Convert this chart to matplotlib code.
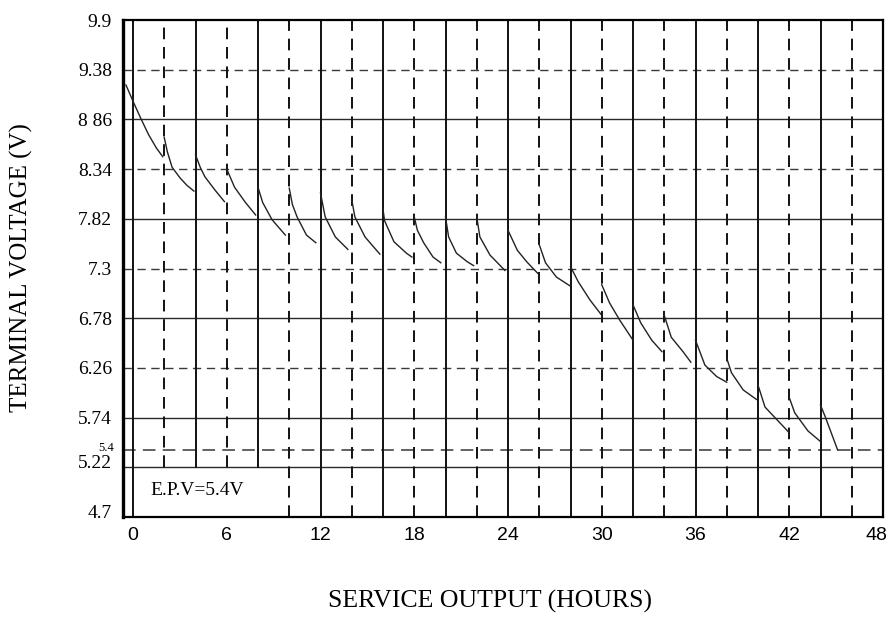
import matplotlib
matplotlib.use("Agg")
import matplotlib.pyplot as plt
import matplotlib.transforms as mtransforms

# ---- data ----
x_ticks = [0, 6, 12, 18, 24, 30, 36, 42, 48]
y_ticks = [4.7, 5.22, 5.74, 6.26, 6.78, 7.3, 7.82, 8.34, 8.86, 9.38, 9.9]
y_tick_labels = ["4.7", "5.22", "5.74", "6.26", "6.78", "7.3", "7.82", "8.34", "8 86", "9.38", "9.9"]
epv = 5.4
epv_label = "E.P.V=5.4V"

seg_hours = [
    [-0.45, 0, 0.5, 1.0, 1.5, 1.9],
    [2, 2.2, 2.5, 3.0, 3.45, 3.9],
    [4, 4.3, 4.6, 5.25, 5.85],
    [6, 6.5, 7.2, 7.85],
    [8, 8.3, 8.9, 9.75],
    [10, 10.2, 10.5, 11.1, 11.7],
    [12, 12.3, 12.95, 13.75],
    [14, 14.2, 14.85, 15.8],
    [16, 16.1, 16.7, 17.5, 17.85],
    [18, 18.2, 18.6, 19.2, 19.7],
    [20, 20.2, 20.7, 21.4, 21.8],
    [22, 22.2, 22.85, 23.8],
    [24, 24.6, 25.2, 25.9],
    [26, 26.4, 27.1, 27.95],
    [28, 28.5, 29.25, 30],
    [30, 30.5, 31.15, 32],
    [32, 32.5, 33.2, 33.85],
    [34, 34.45, 35.2, 35.7],
    [36, 36.6, 37.35, 38],
    [38, 38.3, 39.05, 39.9],
    [40, 40.45, 41.2, 41.95],
    [42, 42.35, 43.2, 44],
    [44, 44.3, 45.1],
]
seg_volts = [
    [9.22, 9.05, 8.87, 8.70, 8.56, 8.47],
    [8.67, 8.52, 8.36, 8.25, 8.17, 8.11],
    [8.49, 8.36, 8.26, 8.12, 8.00],
    [8.34, 8.15, 7.99, 7.86],
    [8.15, 7.99, 7.81, 7.65],
    [8.14, 7.97, 7.84, 7.65, 7.57],
    [8.09, 7.84, 7.63, 7.50],
    [8.02, 7.84, 7.63, 7.45],
    [7.92, 7.80, 7.58, 7.46, 7.42],
    [7.84, 7.70, 7.57, 7.42, 7.36],
    [7.84, 7.63, 7.46, 7.37, 7.33],
    [7.84, 7.63, 7.44, 7.28],
    [7.70, 7.49, 7.37, 7.25],
    [7.55, 7.36, 7.21, 7.12],
    [7.32, 7.16, 6.97, 6.81],
    [7.13, 6.94, 6.76, 6.55],
    [6.92, 6.73, 6.55, 6.43],
    [6.81, 6.58, 6.43, 6.32],
    [6.55, 6.29, 6.17, 6.11],
    [6.36, 6.21, 6.03, 5.93],
    [6.08, 5.85, 5.72, 5.59],
    [5.95, 5.79, 5.60, 5.49],
    [5.87, 5.75, 5.40],
]

solid_h = [8.86, 7.82, 6.78, 5.74, 5.22]
dashed_h = [9.38, 8.34, 7.3, 6.26]
solid_v = [0, 4, 8, 12, 16, 20, 24, 28, 32, 36, 40, 44]
dashed_v = [2, 6, 10, 14, 18, 22, 26, 30, 34, 38, 42, 46]
label_box_x = (0, 10)

# ---- figure ----
fig = plt.figure(figsize=(8.91, 6.19), dpi=100)
ax = fig.add_axes([123/891, 1 - 517/619, (883 - 123)/891, (517 - 20)/619])
ax.set_xlim(-0.64, 48)
ax.set_ylim(4.7, 9.9)

serif = ["Liberation Serif", "DejaVu Serif"]
sans = ["Liberation Sans", "DejaVu Sans"]

# grid lines
for y in solid_h:
    ax.axhline(y, color="#2a2a2a", lw=1.0, zorder=1)
for y in dashed_h:
    ax.axhline(y, color="#3a3a3a", lw=1.0, ls=(0, (6, 4)), zorder=1)
ax.axhline(epv, color="#555555", lw=1.3, ls=(0, (7, 4)), zorder=1)

ylo_frac = (5.22 - 4.7) / (9.9 - 4.7)
for x in solid_v:
    ymin = ylo_frac if label_box_x[0] < x < label_box_x[1] else 0
    ax.axvline(x, ymin=ymin, color="#111111", lw=1.4, zorder=1)
for x in dashed_v:
    ymin = ylo_frac if label_box_x[0] < x < label_box_x[1] else 0
    ax.axvline(x, ymin=ymin, color="#111111", lw=1.4, ls=(0, (6, 4)), zorder=1)

# curve segments
for hs, vs in zip(seg_hours, seg_volts):
    ax.plot(hs, vs, color="#222222", lw=1.0, zorder=3)

# text box label
ax.text(1.1, 4.98, epv_label, fontsize=14, family=serif, va="center", ha="left")

# spines
for s in ax.spines.values():
    s.set_color("black")
    s.set_linewidth(1.6)
ax.spines["left"].set_linewidth(2.4)

# ticks
ax.set_xticks(x_ticks)
ax.set_xticklabels([str(v) for v in x_ticks], fontsize=14, family=sans)
ax.set_yticks(y_ticks)
ax.set_yticklabels(y_tick_labels, fontsize=14, family=serif)
ax.tick_params(axis="both", length=0)
ax.tick_params(axis="y", pad=8)
ax.tick_params(axis="x", pad=7)

# keep the last x label inside the figure
xlabs = ax.get_xticklabels()
xlabs[-1].set_transform(xlabs[-1].get_transform() + mtransforms.ScaledTranslation(-7/100, 0, fig.dpi_scale_trans))

# nudge lower y labels up slightly
for lab in ax.get_yticklabels():
    if lab.get_text() in ("4.7", "5.22"):
        lab.set_transform(lab.get_transform() + mtransforms.ScaledTranslation(0, 6/100, fig.dpi_scale_trans))

# small 5.4 label
ax.text(-0.012, epv + 0.02, "5.4", transform=ax.get_yaxis_transform(), fontsize=9,
        family=serif, ha="right", va="center")

fig.text(21/891, 1 - 268/619, "TERMINAL VOLTAGE (V)", rotation=90, fontsize=18,
         family=serif, ha="center", va="center")
fig.text(490/891, 1 - 601/619, "SERVICE OUTPUT (HOURS)", fontsize=18.5,
         family=serif, ha="center", va="center")

fig.savefig("out.png", dpi=100, facecolor="white")
